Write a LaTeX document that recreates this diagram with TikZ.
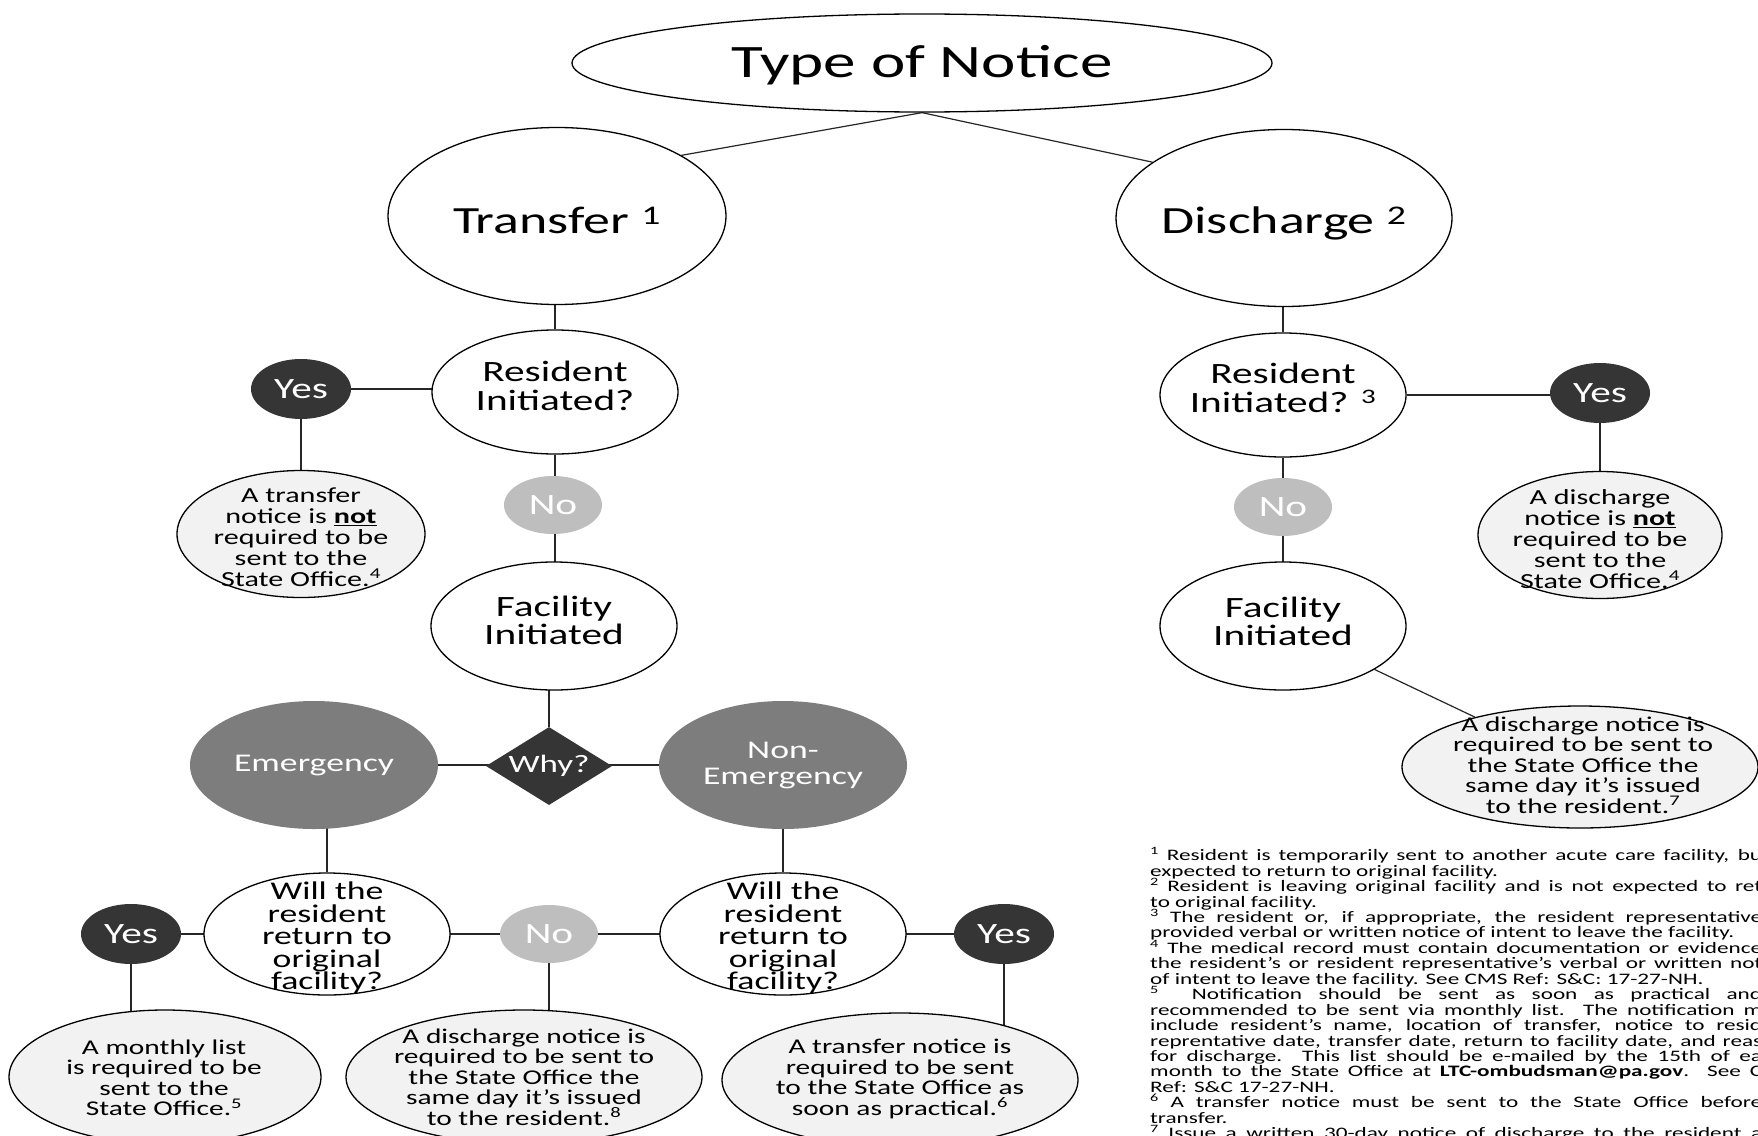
\documentclass[tikz,border=0pt]{standalone}
\usepackage{fontspec}
\setmainfont{Carlito}[FakeStretch=1.4]
\newfontfamily\fnfont{Carlito}[FakeStretch=1.45]
\usetikzlibrary{shapes.geometric,backgrounds}
\definecolor{dk}{HTML}{353535}
\definecolor{nogray}{HTML}{BEBEBE}
\definecolor{emgray}{HTML}{7D7D7D}
\definecolor{outfill}{HTML}{F2F2F2}
\newcommand\fsz[2]{\fontsize{#1}{#2}\selectfont\lineskiplimit=-200pt\lineskip=0pt\relax}
\newcommand\jl[1]{\makebox[612pt][s]{#1}}
\begin{document}
\begin{tikzpicture}[x=1pt,y=-1pt,
  ell/.style={ellipse, draw=black, line width=1.3pt, fill=white, inner sep=0pt},
  outc/.style={ell, fill=outfill},
  yesnode/.style={ellipse, fill=dk, text=white, inner sep=0pt, minimum width=100pt, minimum height=60pt, font=\fsz{29.5}{28}},
  nonode/.style={ellipse, fill=nogray, text=white, inner sep=0pt, minimum width=98pt, minimum height=58pt, font=\fsz{29.5}{28}},
  emnode/.style={ellipse, fill=emgray, text=white, inner sep=0pt, minimum width=248pt, minimum height=128pt, align=center, font=\fsz{25.5}{26}},
  whynode/.style={diamond, fill=dk, text=white, inner sep=0pt, aspect=1.6, minimum width=126pt, minimum height=78pt, font=\fsz{25}{25}},
  lbl/.style={align=center, inner sep=0pt, text=black},
  conn/.style={line width=1.2pt, draw=black!85}]
\useasboundingbox (0,0) rectangle (1758,1135);
\clip (0,0) rectangle (1758,1135);

% top
\node[ell, minimum width=700pt, minimum height=98pt] (title) at (922,63) {};
\node[lbl, font=\fsz{46.5}{46.5}, yshift=-2pt] (title-t) at (title) {Type of Notice};
\node[ell, minimum width=338pt, minimum height=177pt] (transfer) at (557,216) {};
\node[lbl, font=\fsz{38.5}{38.5}, yshift=-4.5pt] (transfer-t) at (transfer) {Transfer \textsuperscript{1}};
\node[ell, minimum width=336pt, minimum height=177pt] (discharge) at (1284,218) {};
\node[lbl, font=\fsz{38.5}{38.5}, yshift=-5pt] (discharge-t) at (discharge) {Discharge \textsuperscript{2}};

% left branch
\node[ell, minimum width=246pt, minimum height=124pt] (resL) at (555,392) {};
\node[lbl, font=\fsz{29.5}{29}, yshift=6pt] (resL-t) at (resL) {Resident\\Initiated?};
\node[yesnode] (yesL) at (301,389) {Yes};
\node[nonode] (noL) at (553,505) {No};
\node[outc, minimum width=248pt, minimum height=127pt] (notL) at (301,534) {};
\node[lbl, font=\fsz{21.5}{21}, yshift=-3pt] (notL-t) at (notL) {A transfer\\notice is \underline{\textbf{not}}\\required to be\\sent to the\\State Office.\textsuperscript{4}};
\node[ell, minimum width=246pt, minimum height=128pt] (facL) at (554,626) {};
\node[lbl, font=\fsz{29.5}{28}, yshift=6pt] (facL-t) at (facL) {Facility\\Initiated};
\node[whynode] (why) at (549,766) {Why?};
\node[emnode] (emer) at (314,765) {\raisebox{-3pt}{Emergency}};
\node[emnode] (nonem) at (783,765) {\raisebox{-2pt}{Non-}\\\raisebox{-2pt}{Emergency}};
\node[ell, minimum width=246pt, minimum height=122pt] (willL) at (327,934) {};
\node[lbl, font=\fsz{25.5}{22.5}, yshift=-4pt] (willL-t) at (willL) {Will the\\resident\\return to\\original\\facility?};
\node[ell, minimum width=246pt, minimum height=122pt] (willR) at (783,934) {};
\node[lbl, font=\fsz{25.5}{22.5}, yshift=-4pt] (willR-t) at (willR) {Will the\\resident\\return to\\original\\facility?};
\node[yesnode] (yesBL) at (131,934) {Yes};
\node[nonode] (noM) at (549,934) {No};
\node[yesnode] (yesBR) at (1004,934) {Yes};
\node[outc, minimum width=312pt, minimum height=134pt] (monthly) at (165,1077) {};
\node[lbl, font=\fsz{21}{20.5}] (monthly-t) at (164,1078) {A monthly list\\is required to be\\sent to the\\State Office.\textsuperscript{5}};
\node[outc, minimum width=356pt, minimum height=134pt] (dischM) at (524,1077) {};
\node[lbl, font=\fsz{21}{20.5}] (dischM-t) at (dischM) {A discharge notice is\\required to be sent to\\the State Office the\\same day it’s issued\\to the resident.\textsuperscript{8}};
\node[outc, minimum width=356pt, minimum height=134pt] (transN) at (900,1080) {};
\node[lbl, font=\fsz{21}{20.5}] (transN-t) at (900,1079) {A transfer notice is\\required to be sent\\to the State Office as\\soon as practical.\textsuperscript{6}};

% right branch
\node[ell, minimum width=246pt, minimum height=124pt] (resR) at (1283,395) {};
\node[lbl, font=\fsz{29.5}{29}, yshift=7pt] (resR-t) at (resR) {Resident\\Initiated? \textsuperscript{3}};
\node[yesnode] (yesR) at (1600,393) {Yes};
\node[nonode] (noR) at (1283,507) {No};
\node[outc, minimum width=244pt, minimum height=127pt] (notR) at (1600,535) {};
\node[lbl, font=\fsz{21.5}{21}, yshift=-4pt] (notR-t) at (notR) {A discharge\\notice is \underline{\textbf{not}}\\required to be\\sent to the\\State Office.\textsuperscript{4}};
\node[ell, minimum width=246pt, minimum height=128pt] (facR) at (1283,626) {};
\node[lbl, font=\fsz{29.5}{28}, yshift=5pt] (facR-t) at (facR) {Facility\\Initiated};
\node[outc, minimum width=356pt, minimum height=122pt] (discR) at (1580,767) {};
\node[lbl, font=\fsz{21}{20.5}] (discR-t) at (1583,765) {A discharge notice is\\required to be sent to\\the State Office the\\same day it’s issued\\to the resident.\textsuperscript{7}};

% footnotes
\node[anchor=north west, inner sep=0pt, align=left, font=\fnfont\fsz{16}{15.45}] (notes) at (1150,847) {%
\jl{\textsuperscript{1} Resident is temporarily sent to another acute care facility, bu}\\
expected to return to original facility.\\
\jl{\textsuperscript{2} Resident is leaving original facility and is not expected to ret}\\
to original facility.\\
\jl{\textsuperscript{3} The resident or, if appropriate, the resident representative}\\
provided verbal or written notice of intent to leave the facility.\\
\jl{\textsuperscript{4} The medical record must contain documentation or evidence}\\
\jl{the resident’s or resident representative’s verbal or written not}\\
of intent to leave the facility. See CMS Ref: S\&C: 17-27-NH.\\
\jl{\textsuperscript{5}\ \ Notification should be sent as soon as practical and}\\
\jl{recommended to be sent via monthly list. The notification m}\\
\jl{include resident’s name, location of transfer, notice to resid}\\
\jl{reprentative date, transfer date, return to facility date, and reas}\\
\jl{for discharge. This list should be e-mailed by the 15th of ea}\\
\jl{month to the State Office at \textbf{LTC-ombudsman@pa.gov}. See C}\\
Ref: S\&C 17-27-NH.\\
\jl{\textsuperscript{6} A transfer notice must be sent to the State Office before}\\
transfer.\\
\jl{\textsuperscript{7} Issue a written 30-day notice of discharge to the resident a}};

% connectors
\begin{scope}[on background layer]
\draw[conn] (title.south) -- (transfer.26);
\draw[conn] (title.south) -- (discharge.157);
\draw[conn] (resL) -- (resL |- transfer);
\draw[conn] (yesL) -- (yesL -| resL);
\draw[conn] (yesL) -- (yesL |- notL);
\draw[conn] (resL) -- (resL |- facL);
\draw[conn] (why) -- (why |- facL);
\draw[conn] (emer) -- (nonem);
\draw[conn] (willL) -- (willL |- emer);
\draw[conn] (willR) -- (willR |- nonem);
\draw[conn] (yesBL) -- (yesBR);
\draw[conn] (yesBL) -- (yesBL |- monthly);
\draw[conn] (noM) -- (noM |- dischM);
\draw[conn] (yesBR) -- (yesBR |- transN);
\draw[conn] (resR) -- (resR |- discharge);
\draw[conn] (resR) -- (resR -| yesR);
\draw[conn] (yesR) -- (yesR |- notR);
\draw[conn] (resR) -- (resR |- facR);
\draw[conn] (facR) -- (discR);
\end{scope}
\end{tikzpicture}
\end{document}
